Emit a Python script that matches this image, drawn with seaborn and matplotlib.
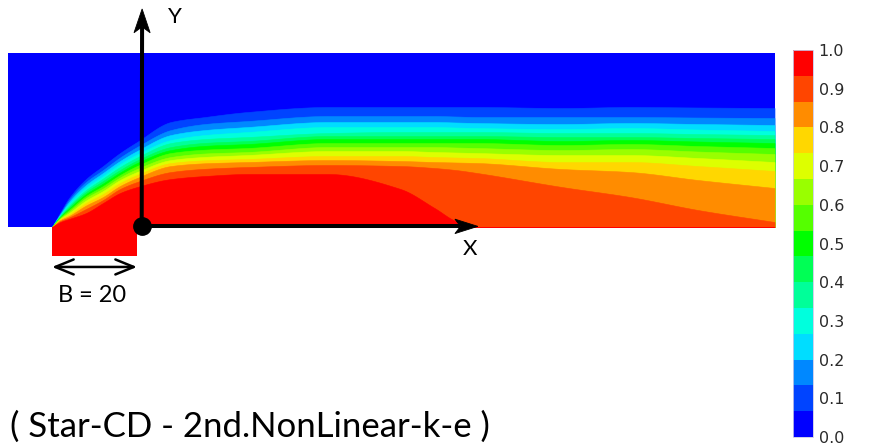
import numpy as np
import matplotlib
matplotlib.use("Agg")
import matplotlib.pyplot as plt
import seaborn as sns
from matplotlib.colors import BoundaryNorm, ListedColormap
from matplotlib.cm import ScalarMappable
from matplotlib.patches import Polygon, Rectangle

# ---------------------------------------------------------------------------
# Scalar concentration from a 2-D plane jet (nozzle width B = 20)
# Iso-line heights y (in the same units as B) of the k/15 contours,
# sampled at the streamwise stations x below.
# ---------------------------------------------------------------------------
stations = [-20, -18, -16, -12, -8, -4, 0, 8, 16, 26, 45, 62, 70, 75, 80, 100, 116, 132, 150]

iso_1 = [0, 3.53, 6.82, 11.29, 14.35, 17.41, 20.00, 24.71, 25.88, 27.06, 28.24, 28.24, 28.24, 28.24, 28.24, 28.00, 28.24, 28.12, 28.00]
iso_2 = [0, 3.29, 6.35, 10.59, 13.41, 16.35, 18.82, 22.82, 24.24, 24.94, 26.12, 26.12, 26.12, 26.00, 25.88, 25.88, 25.88, 25.76, 25.65]
iso_3 = [0, 3.06, 5.88, 9.88, 12.71, 15.53, 17.88, 21.65, 22.82, 23.53, 24.71, 24.71, 24.71, 24.59, 24.47, 24.24, 24.47, 24.24, 24.00]
iso_4 = [0, 2.94, 5.41, 9.29, 12.00, 14.82, 17.06, 20.47, 21.65, 22.35, 23.53, 23.53, 23.53, 23.41, 23.29, 23.06, 23.29, 22.94, 22.59]
iso_5 = [0, 2.82, 5.06, 8.71, 11.41, 14.12, 16.35, 19.76, 20.70, 21.18, 22.12, 22.35, 22.35, 22.35, 22.35, 22.12, 22.12, 21.88, 21.65]
iso_6 = [0, 2.59, 4.71, 8.24, 10.82, 13.41, 15.65, 18.82, 19.80, 20.24, 21.41, 21.41, 21.41, 21.41, 21.41, 21.18, 21.18, 20.94, 20.71]
iso_7 = [0, 2.47, 4.35, 7.76, 10.24, 12.82, 15.06, 18.12, 19.10, 19.53, 20.71, 20.71, 20.71, 20.71, 20.71, 20.24, 20.47, 20.12, 19.76]
iso_8 = [0, 2.35, 4.00, 7.29, 9.65, 12.24, 14.35, 17.41, 18.20, 18.59, 19.76, 19.76, 19.76, 19.76, 19.76, 19.29, 19.53, 19.06, 18.59]
iso_9 = [0, 2.12, 3.65, 6.82, 9.06, 11.65, 13.65, 16.47, 17.30, 17.65, 18.82, 18.82, 18.82, 18.71, 18.59, 18.12, 18.35, 17.76, 17.18]
iso_10 = [0, 2.00, 3.29, 6.24, 8.47, 11.06, 12.94, 15.76, 16.50, 16.94, 17.88, 17.88, 17.65, 17.53, 17.41, 16.94, 16.94, 16.24, 15.29]
iso_11 = [0, 1.88, 2.94, 5.65, 7.76, 10.35, 12.24, 15.06, 15.70, 16.00, 16.71, 16.71, 16.47, 16.35, 16.24, 15.29, 15.29, 14.35, 13.18]
iso_12 = [0, 1.65, 2.59, 5.06, 7.06, 9.65, 11.53, 14.35, 15.00, 15.29, 15.76, 15.53, 15.29, 15.18, 15.06, 13.65, 12.94, 11.06, 9.18]
iso_13 = [0, 1.41, 2.24, 4.24, 6.35, 8.94, 10.59, 12.94, 13.70, 14.12, 14.59, 14.35, 13.88, 13.41, 12.71, 9.41, 7.06, 4.00, 1.18]
iso_14 = [0, 1.18, 1.88, 3.29, 5.65, 8.00, 9.41, 11.29, 12.00, 12.47, 12.47, 8.94, 4.47, 1.41, 0, 0, 0, 0, 0]

iso_lines = [iso_1, iso_2, iso_3, iso_4, iso_5, iso_6, iso_7, iso_8,
             iso_9, iso_10, iso_11, iso_12, iso_13, iso_14]

# 15 colour bands, 0.0 -> 1.0
band_colors = ["#0000FF", "#0044FF", "#0088FF", "#00DDFF", "#00FFDD",
               "#00FF99", "#00FF55", "#00FF00", "#55FF00", "#99FF00",
               "#DDFF00", "#FFD700", "#FF8C00", "#FF4500", "#FF0000"]
tick_values = [0.0, 0.1, 0.2, 0.3, 0.4, 0.5, 0.6, 0.7, 0.8, 0.9, 1.0]

nozzle_width = 20          # B
domain_x = (-30.35, 150.1)
domain_top = 40.94
nozzle_depth = 6.82

title_text = "( Star-CD - 2nd.NonLinear-k-e )"


def pchip(x, y, xn):
    """Monotone piecewise cubic Hermite interpolation."""
    x = np.asarray(x, float)
    y = np.asarray(y, float)
    h = np.diff(x)
    d = np.diff(y) / h
    m = np.zeros_like(y)
    m[0], m[-1] = d[0], d[-1]
    for i in range(1, len(x) - 1):
        if d[i - 1] * d[i] > 0:
            w1 = 2 * h[i] + h[i - 1]
            w2 = h[i] + 2 * h[i - 1]
            m[i] = (w1 + w2) / (w1 / d[i - 1] + w2 / d[i])
    idx = np.clip(np.searchsorted(x, xn) - 1, 0, len(x) - 2)
    t = (xn - x[idx]) / h[idx]
    h00 = 2 * t**3 - 3 * t**2 + 1
    h10 = t**3 - 2 * t**2 + t
    h01 = -2 * t**3 + 3 * t**2
    h11 = t**3 - t**2
    return (h00 * y[idx] + h10 * h[idx] * m[idx]
            + h01 * y[idx + 1] + h11 * h[idx] * m[idx + 1])


def stealth_arrow(ax, start, end, lw, head_len, head_half, notch):
    start = np.asarray(start, float)
    end = np.asarray(end, float)
    t = (end - start) / np.hypot(*(end - start))
    n = np.array([-t[1], t[0]])
    base = end - t * head_len
    shaft_end = base + t * notch
    ax.plot([start[0], shaft_end[0]], [start[1], shaft_end[1]],
            color="black", lw=lw, solid_capstyle="butt", zorder=6)
    head = [end, base + n * head_half, base + t * notch, base - n * head_half]
    ax.add_patch(Polygon(head, closed=True, facecolor="black",
                         edgecolor="black", lw=0.6, zorder=6))


sns.set_theme(style="white")
plt.rcParams["font.family"] = ["Lato", "DejaVu Sans"]

cmap = ListedColormap(sns.color_palette(band_colors))
norm = BoundaryNorm(np.linspace(0, 1, len(band_colors) + 1), len(band_colors))

fig = plt.figure(figsize=(8.91, 4.47), dpi=100)
ax = fig.add_axes([0, 0, 1, 1])
ax.set_xlim(-32.24, 177.41)
ax.set_ylim(-51.76, 53.41)
ax.axis("off")

# background band (0.0 - 1/15) over the whole domain
ax.add_patch(Rectangle((domain_x[0], 0), domain_x[1] - domain_x[0], domain_top,
                       facecolor=band_colors[0], edgecolor="none", zorder=1))

# stacked bands: each iso-line filled down to the wall with the next colour
xf = np.linspace(stations[0], stations[-1], 1500)
for k, iso in enumerate(iso_lines, start=1):
    yk = np.clip(pchip(stations, iso, xf), 0, domain_top)
    ax.fill_between(xf, 0, yk, color=band_colors[k], lw=0.4,
                    edgecolor=band_colors[k], zorder=1 + k * 0.01)

# nozzle (fully mixed fluid, 1.0)
ax.add_patch(Rectangle((-nozzle_width, -nozzle_depth), nozzle_width, nozzle_depth,
                       facecolor=band_colors[-1], edgecolor="none", zorder=2))

# coordinate system
origin = (1.1, 0.15)
stealth_arrow(ax, origin, (origin[0] + 0.1, 51.3), lw=2.9,
              head_len=5.6, head_half=1.9, notch=1.4)
stealth_arrow(ax, origin, (80.2, origin[1]), lw=2.9,
              head_len=5.4, head_half=1.7, notch=1.3)
ax.plot(*origin, "o", color="black", ms=12.5, zorder=7)
ax.text(8.9, 49.4, "Y", fontsize=16, ha="center", va="center", color="black")
ax.text(78.4, -5.2, "X", fontsize=16, ha="center", va="center", color="black")

# nozzle width dimension
ax.annotate("", xy=(0, -9.4), xytext=(-nozzle_width, -9.4),
            arrowprops=dict(arrowstyle="<->,head_length=1.1,head_width=0.45",
                            lw=1.8, color="black", shrinkA=0, shrinkB=0))
ax.text(-10.6, -16.2, f"B = {nozzle_width}", fontsize=17,
        ha="center", va="center", color="black")

ax.text(-29.9, -49.4, title_text, fontsize=25, ha="left",
        va="baseline", color="black")

# colour bar
cax = fig.add_axes([793 / 891, 10 / 447, 20 / 891, 387 / 447])
sm = ScalarMappable(norm=norm, cmap=cmap)
cb = fig.colorbar(sm, cax=cax, ticks=tick_values)
cb.ax.minorticks_off()
cb.ax.set_yticklabels([f"{v:.1f}" for v in tick_values])
cb.ax.tick_params(which="both", length=0, width=0, pad=4,
                  labelsize=11.5, colors="#2a2a2a")
for lab in cb.ax.get_yticklabels():
    lab.set_family("DejaVu Sans")
cb.outline.set_edgecolor("#c8c8e8")
cb.outline.set_linewidth(0.6)

fig.savefig("out.png", dpi=100)
